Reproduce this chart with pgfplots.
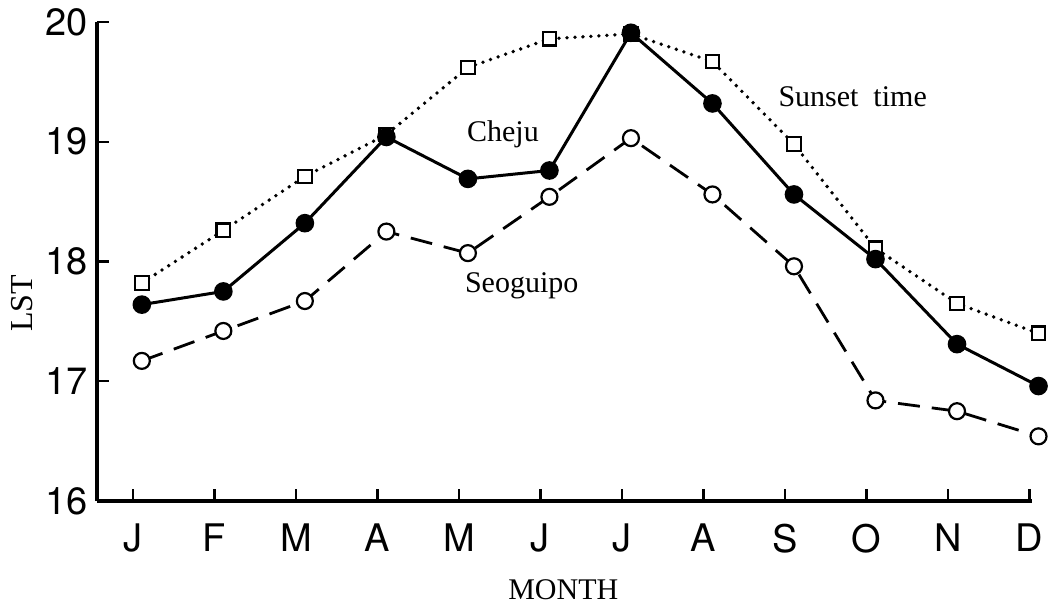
\documentclass[border=0pt]{standalone}
\usepackage{fontspec}
\setmainfont{Liberation Serif}
\setsansfont{TeX Gyre Heros}
\usepackage{pgfplots}
\pgfplotsset{compat=1.18}
\begin{document}
\begin{tikzpicture}
\begin{axis}[
  scale only axis, width=467.5pt, height=239.5pt,
  at={(0,0)}, anchor=south west,
  xmin=0.45, xmax=11.92, ymin=16, ymax=20,
  axis lines*=left,
  axis line style={line width=1.8pt},
  tick align=inside,
  major tick length=6pt,
  tick style={line width=1.2pt, black},
  xtick={0.89,1.89,2.89,3.89,4.89,5.89,6.89,7.89,8.89,9.89,10.89,11.89},
  xticklabels={J,F,M,A,M,J,J,A,S,O,N,D},
  ytick={16,17,18,19,20},
  ticklabel style={font=\sffamily\fontsize{19}{22}\selectfont},
  /pgf/number format/assume math mode=true,
  xticklabel style={yshift=-8pt},
  yticklabel style={xshift=-1pt},
  clip=false,
]
% Seoguipo
\addplot[black, line width=1.4pt, dash pattern=on 11pt off 6pt, mark=*, mark size=4pt,
  mark options={solid, fill=white, line width=1.1pt}] coordinates {
  (1,17.17) (2,17.42) (3,17.67) (4,18.25) (5,18.07) (6,18.54)
  (7,19.03) (8,18.56) (9,17.96) (10,16.84) (11,16.75) (12,16.54)};
% Sunset time
\addplot[black, line width=1.9pt, dash pattern=on 0pt off 4pt, line cap=round, mark=square*, mark size=3.4pt,
  mark options={solid, fill=white, line width=1.1pt}] coordinates {
  (1,17.82) (2,18.26) (3,18.71) (4,19.06) (5,19.62) (6,19.86)
  (7,19.90) (8,19.67) (9,18.98) (10,18.11) (11,17.65) (12,17.40)};
% Cheju
\addplot[black, line width=1.5pt, mark=*, mark size=3.9pt,
  mark options={solid, fill=black}] coordinates {
  (1,17.64) (2,17.75) (3,18.32) (4,19.04) (5,18.69) (6,18.76)
  (7,19.91) (8,19.32) (9,18.56) (10,18.02) (11,17.31) (12,16.96)};
\node[font=\fontsize{15}{18}\selectfont] at (axis cs:5.43,19.06) {Cheju};
\node[font=\fontsize{15}{18}\selectfont] at (axis cs:5.66,17.80) {Seoguipo};
\node[font=\fontsize{15}{18}\selectfont] at (axis cs:9.72,19.38) {Sunset\ \ time};
\node[font=\fontsize{16}{18}\selectfont, rotate=90] at (axis cs:-0.47,17.65) {LST};
\node[font=\fontsize{15}{18}\selectfont] at (axis cs:6.17,15.26) {MONTH};
\end{axis}
\pgfresetboundingbox
\path[use as bounding box] (-48.5pt,-52pt) rectangle (476.5pt,250.5pt);
\end{tikzpicture}
\end{document}
